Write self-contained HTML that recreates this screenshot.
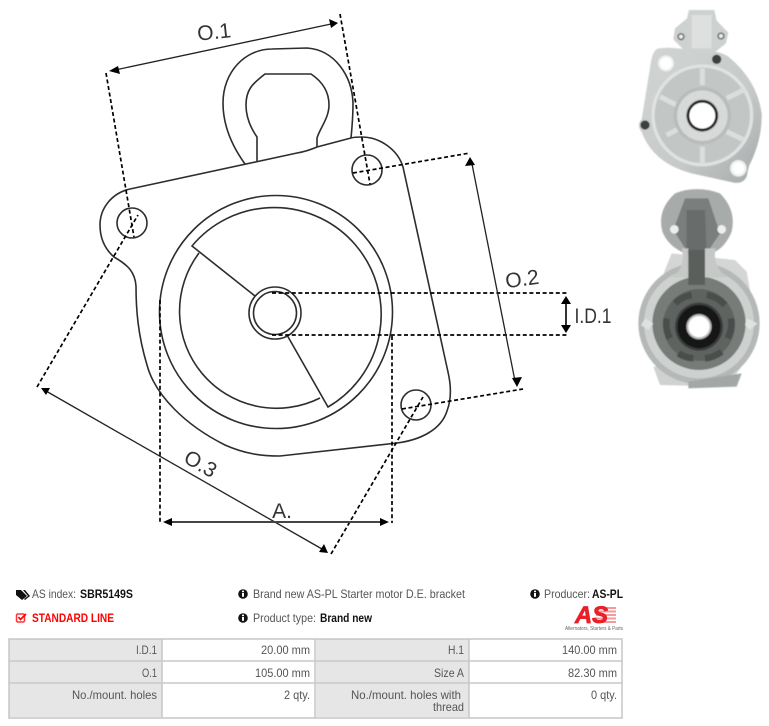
<!DOCTYPE html>
<html>
<head>
<meta charset="utf-8">
<style>
html,body{margin:0;padding:0;background:#fff;width:769px;height:726px;overflow:hidden}
svg{display:block}
text{font-family:"Liberation Sans",sans-serif}
.d{fill:none;stroke:#000;stroke-width:1.7;stroke-dasharray:4 2.6}
.o{fill:none;stroke:#2d2d2d;stroke-width:1.6}
.a{fill:none;stroke:#222;stroke-width:1.3}
.lbl{font-size:21px;fill:#333}
.t{font-size:12px;fill:#555}
.b{font-size:12px;fill:#111;font-weight:bold}
.c{text-anchor:end;font-size:12px;fill:#555}
</style>
</head>
<body>
<svg width="769" height="726" viewBox="0 0 769 726" xmlns="http://www.w3.org/2000/svg">
<defs>
<filter id="bl" x="-5%" y="-5%" width="110%" height="110%"><feGaussianBlur stdDeviation="1.6"/></filter>
<linearGradient id="g1" x1="0" y1="0" x2="1" y2="1"><stop offset="0" stop-color="#d2d5d4"/><stop offset=".6" stop-color="#c6cac9"/><stop offset="1" stop-color="#a4a9a9"/></linearGradient>
</defs>

<!-- bracket outline -->
<path class="o" d="M351,138 L317,147 C310,150 303,152 297,153 L130,189 C112,193 100,208 100,225 C100,240 106,250 114,257 C128,265 135,272 136,286 C136,310 138,335 147,365 C155,395 185,425 225,445 C245,454 262,456 280,456 L397,443 C420,440 441,430 447,411 C452,398 451,385 448,372 L403,167 C398,150 380,137 362,137 C358,137 354,137 351,138 Z"/>
<!-- top loop -->
<path class="o" d="M245,164 C232,146 223,125 223,103 C223,72 245,49 272,49 L307,48 C335,50 352,76 353,103 C353,118 352,128 351,138"/>
<path class="o" d="M257,162 L257,137 C250,127 246,116 246,105 C246,90 252,84 265,74 L311,74 C323,82 329,92 329,105 C329,118 320,128 317,138 L317,147"/>
<!-- circles -->
<circle class="o" cx="276" cy="312" r="116.5"/>
<path class="o" d="M199,253 A97,97 0 0 0 320,398"/>
<path class="o" d="M255,296 L192,246 A107,107 0 1 1 328,407 L287,335"/>
<circle class="o" cx="275" cy="313" r="26"/>
<circle class="o" cx="275" cy="313" r="21.5"/>
<circle class="o" cx="132" cy="223" r="15"/>
<circle class="o" cx="367" cy="170" r="15"/>
<circle class="o" cx="416" cy="405" r="15"/>

<!-- dashed guides -->
<path class="d" d="M106,73 L134,237"/>
<path class="d" d="M340,14 L370,184"/>
<path class="d" d="M353,173 L470,153"/>
<path class="d" d="M402,409 L523,389"/>
<path class="d" d="M37,387 L138,215"/>
<path class="d" d="M331,554 L423,397"/>
<path class="d" d="M272,293 L567,293"/>
<path class="d" d="M272,335 L567,335"/>
<path class="d" d="M160,300 L160,523"/>
<path class="d" d="M392,336 L392,523"/>

<!-- dimension arrows -->
<path class="a" d="M115,70 L331,24"/>
<polygon points="109,71 118,66 120,74" fill="#000"/>
<polygon points="338,23 329,19 331,28" fill="#000"/>
<path class="a" d="M472,164 L515,381"/>
<polygon points="470,157 465,166 475,165" fill="#000"/>
<polygon points="517,387 512,378 522,377" fill="#000"/>
<path class="a" d="M46,391 L322,549"/>
<polygon points="41,388 50,388 46,395" fill="#000"/>
<polygon points="328,553 319,552 324,544" fill="#000"/>
<path d="M566,301 L566,328" stroke="#333" stroke-width="2" fill="none"/>
<polygon points="566,296 561,304 571,304" fill="#000"/>
<polygon points="566,333 561,325 571,325" fill="#000"/>
<path d="M170,522 L382,522" stroke="#444" stroke-width="2" fill="none"/>
<polygon points="163,522 172,518 172,526" fill="#000"/>
<polygon points="389,522 380,518 380,526" fill="#000"/>

<!-- dimension labels -->
<text class="lbl" x="214" y="39" text-anchor="middle" transform="rotate(-6 214 31)">O.1</text>
<text class="lbl" x="522" y="286" text-anchor="middle" transform="rotate(-8 522 278)">O.2</text>
<text class="lbl" x="593" y="323" text-anchor="middle" textLength="37" lengthAdjust="spacingAndGlyphs">I.D.1</text>
<text class="lbl" x="201" y="471" text-anchor="middle" transform="rotate(30 201 463)">O.3</text>
<text class="lbl" x="282" y="518" text-anchor="middle">A.</text>

<!-- photo 1 -->
<g transform="translate(625,0) scale(.3333)">
<g filter="url(#bl)">
<path d="M192,30 L268,30 L275,62 L310,98 L303,130 L272,155 L175,148 L145,118 L150,85 L186,55 Z" fill="#cdd1cf"/>
<rect x="200" y="45" width="60" height="100" fill="#dde0de"/>
<circle cx="168" cy="110" r="11" fill="#6d7170"/><circle cx="288" cy="108" r="11" fill="#6d7170"/>
<circle cx="168" cy="110" r="6" fill="#eee"/><circle cx="288" cy="108" r="6" fill="#eee"/>
<path d="M100,145 Q84,150 78,185 L50,358 Q33,375 50,396 Q85,490 200,520 L318,546 Q352,556 365,530 L372,498 Q412,420 410,340 Q396,240 310,170 Q296,160 270,155 L130,143 Z" fill="url(#g1)"/>
<circle cx="232" cy="346" r="153" fill="#e0e2e1"/>
<circle cx="232" cy="346" r="143" fill="#c2c6c4"/>
<g stroke="#dcdedd" stroke-width="15">
<path d="M232,205 L232,255"/><path d="M232,440 L232,492"/><path d="M105,290 L160,318"/><path d="M305,295 L360,268"/><path d="M125,405 L165,385"/><path d="M305,395 L358,420"/>
</g>
<circle cx="232" cy="347" r="86" fill="#b8bcbb"/>
<circle cx="232" cy="347" r="76" fill="#d7dad8"/>
<circle cx="232" cy="347" r="50" fill="#bfc3c1"/>
<circle cx="232" cy="347" r="47" fill="#1c1e1e"/>
<circle cx="232" cy="347" r="39" fill="#fff"/>
<circle cx="123" cy="190" r="24" fill="#eff0f0"/><circle cx="123" cy="190" r="18" fill="#fff"/>
<circle cx="340" cy="505" r="25" fill="#eff0f0"/><circle cx="340" cy="505" r="18" fill="#fff"/>
<circle cx="275" cy="178" r="14" fill="#3c4040"/>
<circle cx="60" cy="375" r="14" fill="#3c4040"/>
</g>
</g>

<!-- photo 2 -->
<g transform="translate(625,190) scale(.3333)">
<g filter="url(#bl)">
<path d="M150,10 Q215,-15 285,10 Q335,60 320,125 Q300,175 260,190 L180,190 Q130,170 112,125 Q95,60 150,10 Z" fill="#a7acaa"/>
<path d="M180,25 L250,25 L285,130 L245,190 L190,190 L145,120 Z" fill="#7a7e7c"/>
<path d="M185,60 L240,60 L245,200 L185,200 Z" fill="#686c6a"/>
<circle cx="148" cy="118" r="13" fill="#eee"/><circle cx="290" cy="118" r="13" fill="#eee"/>
<path d="M140,190 L330,210 L365,245 L375,300 L100,300 L120,240 Z" fill="#d3d6d4"/>
<path d="M85,530 L350,530 L305,590 L105,585 Z" fill="#cfd2d0"/>
<circle cx="222" cy="400" r="182" fill="#b4b8b6"/>
<circle cx="222" cy="400" r="165" fill="#ced1cf"/>
<circle cx="222" cy="400" r="140" fill="#777b79"/>
<path d="M170,175 C182,215 165,250 135,262 L310,262 C285,250 262,215 272,175 L240,175 L240,265 L190,265 L190,175 Z" fill="#c5c8c6"/>
<path d="M190,180 L240,180 L240,285 L190,285 Z" fill="#5a5e5c"/>
<circle cx="222" cy="405" r="108" fill="#5f6361"/>
<g fill="none" stroke="#4a4d4c" stroke-width="20">
<path d="M150,340 A95,95 0 0 1 200,315"/><path d="M245,315 A95,95 0 0 1 300,345"/><path d="M125,385 A95,95 0 0 0 135,445"/><path d="M318,385 A95,95 0 0 1 308,445"/><path d="M160,490 A95,95 0 0 0 205,505"/><path d="M240,505 A95,95 0 0 0 290,485"/>
</g>
<circle cx="222" cy="410" r="72" fill="#3a3d3c"/>
<circle cx="222" cy="410" r="65" fill="#161818"/>
<circle cx="222" cy="410" r="38" fill="#b6b9b7"/>
<circle cx="222" cy="410" r="32" fill="#fff"/>
<path d="M60,385 L85,400 L70,420 L48,405 Z" fill="#e0e2e1"/>
<path d="M365,385 L398,400 L375,420 L360,405 Z" fill="#e0e2e1"/>
<path d="M190,575 L350,550 L335,590 L190,595 Z" fill="#a3a8a6"/>
</g>
</g>

<!-- info row -->
<g fill="#111">
<path d="M16,590 L21,590 L27,596 L22,600 L16,595 Z"/>
<path d="M23,590 L25,590 L30,596 L25,600 L24,599 L28,596 Z"/>
</g>
<text class="t" x="32" y="598" textLength="44" lengthAdjust="spacingAndGlyphs">AS index:</text>
<text class="b" x="80" y="598" textLength="53" lengthAdjust="spacingAndGlyphs">SBR5149S</text>
<rect x="16.500" y="614" width="8" height="8" rx="1.500" fill="none" stroke="#f33" stroke-width="1.500"/>
<path d="M18.500,617 L20.500,619.500 L26,614" fill="none" stroke="#f00" stroke-width="1.700"/>
<text x="32" y="622" font-size="12" font-weight="bold" fill="#f00" textLength="82" lengthAdjust="spacingAndGlyphs">STANDARD LINE</text>

<circle cx="243" cy="594" r="4.800" fill="#111"/><rect x="242" y="593" width="2" height="3.800" fill="#fff"/><rect x="242" y="590.600" width="2" height="1.600" fill="#fff"/>
<text class="t" x="253" y="598" textLength="212" lengthAdjust="spacingAndGlyphs">Brand new AS-PL Starter motor D.E. bracket</text>
<circle cx="243" cy="618" r="4.800" fill="#111"/><rect x="242" y="617" width="2" height="3.800" fill="#fff"/><rect x="242" y="614.600" width="2" height="1.600" fill="#fff"/>
<text class="t" x="253" y="622" textLength="63" lengthAdjust="spacingAndGlyphs">Product type:</text>
<text class="b" x="320" y="622" textLength="52" lengthAdjust="spacingAndGlyphs">Brand new</text>
<circle cx="535" cy="594" r="4.800" fill="#111"/><rect x="534" y="593" width="2" height="3.800" fill="#fff"/><rect x="534" y="590.600" width="2" height="1.600" fill="#fff"/>
<text class="t" x="544" y="598" textLength="46" lengthAdjust="spacingAndGlyphs">Producer:</text>
<text class="b" x="592" y="598" textLength="31" lengthAdjust="spacingAndGlyphs">AS-PL</text>

<!-- logo -->
<g fill="#f59a9a"><rect x="596" y="607" width="20" height="2"/><rect x="596" y="610.500" width="20" height="2"/><rect x="596" y="614" width="20" height="2"/><rect x="596" y="617.500" width="20" height="2"/><rect x="596" y="621" width="20" height="2"/></g>
<text x="575" y="623" font-size="24" font-weight="bold" font-style="italic" fill="#e8202a" stroke="#e8202a" stroke-width=".8" textLength="33" lengthAdjust="spacingAndGlyphs">AS</text>
<text x="565" y="630" font-size="5" fill="#666" textLength="58" lengthAdjust="spacingAndGlyphs">Alternators, Starters &amp; Parts</text>

<!-- table -->
<rect x="9" y="639" width="153" height="78" fill="#e6e6e6"/>
<rect x="316" y="639" width="153" height="78" fill="#e6e6e6"/>
<g fill="none" stroke="#c9c9c9" stroke-width="1.600">
<rect x="9" y="639" width="613" height="79"/>
<path d="M162,639 V718 M315,639 V718 M469,639 V718 M9,661 H622 M9,683 H622"/>
</g>
<text class="c" x="157" y="654" textLength="21" lengthAdjust="spacingAndGlyphs">I.D.1</text>
<text class="c" x="310" y="654" textLength="49" lengthAdjust="spacingAndGlyphs">20.00 mm</text>
<text class="c" x="464" y="654" textLength="16" lengthAdjust="spacingAndGlyphs">H.1</text>
<text class="c" x="617" y="654" textLength="55" lengthAdjust="spacingAndGlyphs">140.00 mm</text>
<text class="c" x="157" y="677" textLength="15" lengthAdjust="spacingAndGlyphs">O.1</text>
<text class="c" x="310" y="677" textLength="55" lengthAdjust="spacingAndGlyphs">105.00 mm</text>
<text class="c" x="464" y="677" textLength="30" lengthAdjust="spacingAndGlyphs">Size A</text>
<text class="c" x="617" y="677" textLength="49" lengthAdjust="spacingAndGlyphs">82.30 mm</text>
<text class="c" x="157" y="699" textLength="85" lengthAdjust="spacingAndGlyphs">No./mount. holes</text>
<text class="c" x="310" y="699" textLength="26" lengthAdjust="spacingAndGlyphs">2 qty.</text>
<text class="c" x="461" y="699" textLength="110" lengthAdjust="spacingAndGlyphs">No./mount. holes with</text>
<text class="c" x="464" y="711" textLength="31" lengthAdjust="spacingAndGlyphs">thread</text>
<text class="c" x="617" y="699" textLength="26" lengthAdjust="spacingAndGlyphs">0 qty.</text>
</svg>
</body>
</html>
